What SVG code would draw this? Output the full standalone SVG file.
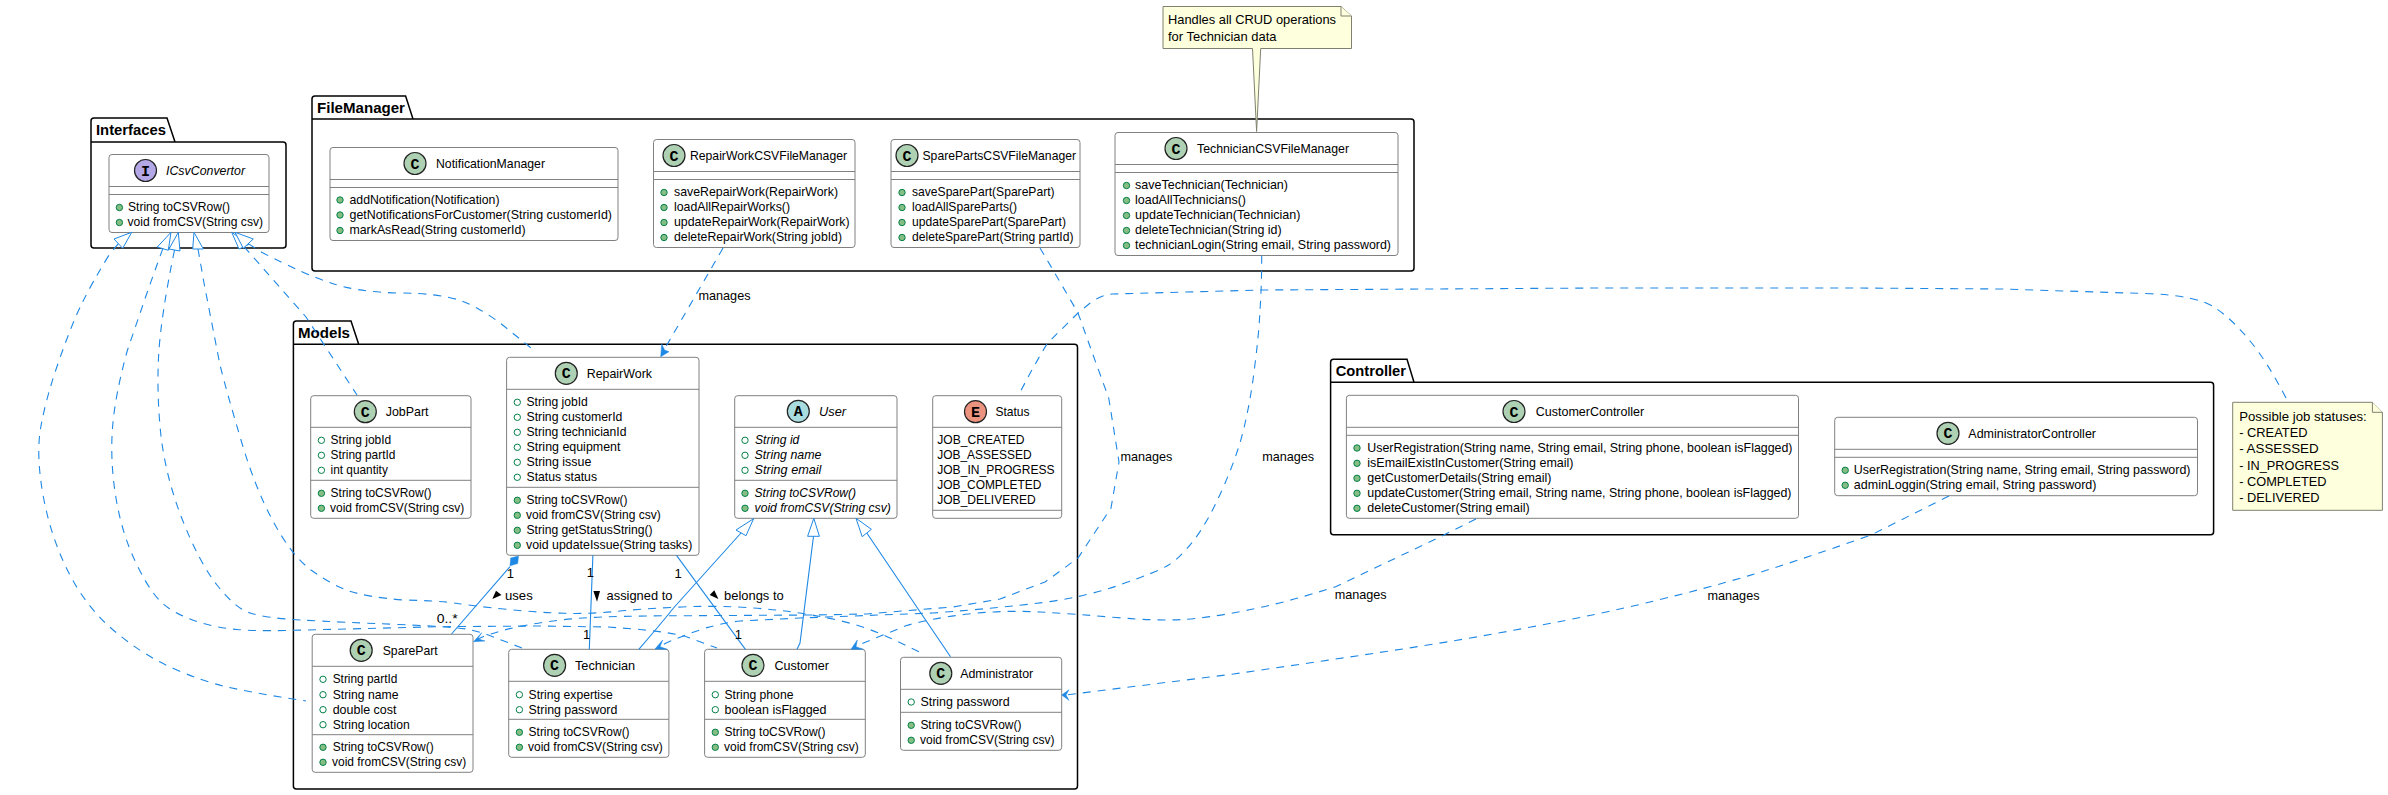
<svg xmlns="http://www.w3.org/2000/svg" width="2388" height="795" viewBox="0 0 2388 795">
<defs>
<style>
text{font-family:"Liberation Sans",Arial,sans-serif;font-size:13px;fill:#000}
.i{font-style:italic}
.p{font-weight:bold;font-size:15px}
.l{font-family:"Liberation Mono",monospace;font-weight:bold;font-size:15px;text-anchor:middle}
.pk{fill:none;stroke:#000;stroke-width:1.5}
.bx{fill:#fff;stroke:#808080;stroke-width:1}
.dv{stroke:#808080;stroke-width:1}
.ic{stroke:#222;stroke-width:1.2}
.cC{fill:#ADD1B2}.cI{fill:#B4A7E5}.cA{fill:#A9DCDF}.cE{fill:#EB937F}
.fd{fill:#fff;stroke:#038048;stroke-width:1}
.md{fill:#84BE84;stroke:#038048;stroke-width:1}
.nt{fill:#FEFFDD;stroke:#808070;stroke-width:1}
.da{fill:none;stroke:#1e88e5;stroke-width:1.1;stroke-dasharray:8 7}
.so{fill:none;stroke:#1e88e5;stroke-width:1.1}
.tr{fill:#fff;stroke:#1e88e5;stroke-width:1}
.hd{fill:#1e88e5;stroke:#1e88e5;stroke-width:.5}
</style>
<circle id="f" r="3.2" class="fd"/>
<circle id="m" r="3.2" class="md"/>
</defs>
<rect width="2388" height="795" fill="#fff"/>

<g id="pkg-Interfaces"><path class="pk" d="M91 142V121a3 3 0 0 1 3-3H167L175 142H283a3 3 0 0 1 3 3V245a3 3 0 0 1-3 3H94a3 3 0 0 1-3-3ZM91 142H175"/><text class="p" x="96" y="135" textLength="70" lengthAdjust="spacingAndGlyphs">Interfaces</text></g>
<g id="pkg-FileManager"><path class="pk" d="M312 119V99a3 3 0 0 1 3-3H405.600L413 119H1411a3 3 0 0 1 3 3V268a3 3 0 0 1-3 3H315a3 3 0 0 1-3-3ZM312 119H413"/><text class="p" x="317" y="113" textLength="88" lengthAdjust="spacingAndGlyphs">FileManager</text></g>
<g id="pkg-Models"><path class="pk" d="M293.400 344.300V324a3 3 0 0 1 3-3H351L358.700 344.300H1074.500a3 3 0 0 1 3 3V786a3 3 0 0 1-3 3H296.400a3 3 0 0 1-3-3ZM293.400 344.300H358.700"/><text class="p" x="298" y="338" textLength="52" lengthAdjust="spacingAndGlyphs">Models</text></g>
<g id="pkg-Controller"><path class="pk" d="M1330.600 382.300V362.300a3 3 0 0 1 3-3H1407L1414 382.300H2210.600a3 3 0 0 1 3 3V531.700a3 3 0 0 1-3 3H1333.600a3 3 0 0 1-3-3ZM1330.600 382.300H1414"/><text class="p" x="1335.700" y="376" textLength="70.300" lengthAdjust="spacingAndGlyphs">Controller</text></g>

<g id="ICsvConvertor"><rect class="bx" x="109" y="154.500" width="160" height="78" rx="3"/><path class="dv" d="M109 186.500H269M109 194.500H269"/><circle class="ic cI" cx="145.500" cy="170.500" r="11"/><text class="l" x="145.500" y="175.500">I</text><text class="i" x="166" y="175" textLength="79" lengthAdjust="spacingAndGlyphs">ICsvConvertor</text><use href="#m" x="119.400" y="207.500"/><text x="128" y="211" textLength="102" lengthAdjust="spacingAndGlyphs">String toCSVRow()</text><use href="#m" x="119.400" y="222.500"/><text x="127.500" y="226" textLength="135.500" lengthAdjust="spacingAndGlyphs">void fromCSV(String csv)</text></g>

<g id="NotificationManager"><rect class="bx" x="330" y="147.500" width="288" height="93" rx="3"/><path class="dv" d="M330 179.500H618M330 187.500H618"/><circle class="ic cC" cx="415" cy="163.500" r="11"/><text class="l" x="415" y="168.500">C</text><text x="436" y="168" textLength="109" lengthAdjust="spacingAndGlyphs">NotificationManager</text><use href="#m" x="340" y="200"/><text x="349.500" y="203.500" textLength="150" lengthAdjust="spacingAndGlyphs">addNotification(Notification)</text><use href="#m" x="340" y="215"/><text x="349.500" y="219" textLength="262.500" lengthAdjust="spacingAndGlyphs">getNotificationsForCustomer(String customerId)</text><use href="#m" x="340" y="230.500"/><text x="349.500" y="234" textLength="176" lengthAdjust="spacingAndGlyphs">markAsRead(String customerId)</text></g>

<g id="RepairWorkCSVFileManager"><rect class="bx" x="653.500" y="139.500" width="201.500" height="108" rx="3"/><path class="dv" d="M653.500 171.500H855M653.500 179.500H855"/><circle class="ic cC" cx="674" cy="155.500" r="11"/><text class="l" x="674" y="160.500">C</text><text x="690" y="160" textLength="157" lengthAdjust="spacingAndGlyphs">RepairWorkCSVFileManager</text><use href="#m" x="664" y="192.500"/><text x="674" y="196" textLength="164" lengthAdjust="spacingAndGlyphs">saveRepairWork(RepairWork)</text><use href="#m" x="664" y="207.500"/><text x="674" y="211" textLength="116" lengthAdjust="spacingAndGlyphs">loadAllRepairWorks()</text><use href="#m" x="664" y="222.500"/><text x="674" y="226" textLength="175.500" lengthAdjust="spacingAndGlyphs">updateRepairWork(RepairWork)</text><use href="#m" x="664" y="237.500"/><text x="674" y="241" textLength="168" lengthAdjust="spacingAndGlyphs">deleteRepairWork(String jobId)</text></g>

<g id="SparePartsCSVFileManager"><rect class="bx" x="891" y="139.500" width="189" height="108" rx="3"/><path class="dv" d="M891 171.500H1080M891 179.500H1080"/><circle class="ic cC" cx="907" cy="155.500" r="11"/><text class="l" x="907" y="160.500">C</text><text x="922.500" y="160" textLength="153.500" lengthAdjust="spacingAndGlyphs">SparePartsCSVFileManager</text><use href="#m" x="902" y="192.500"/><text x="912" y="196" textLength="142.600" lengthAdjust="spacingAndGlyphs">saveSparePart(SparePart)</text><use href="#m" x="902" y="207.500"/><text x="912" y="211" textLength="105" lengthAdjust="spacingAndGlyphs">loadAllSpareParts()</text><use href="#m" x="902" y="222.500"/><text x="912" y="226" textLength="154" lengthAdjust="spacingAndGlyphs">updateSparePart(SparePart)</text><use href="#m" x="902" y="237.500"/><text x="912" y="241" textLength="161.500" lengthAdjust="spacingAndGlyphs">deleteSparePart(String partId)</text></g>

<g id="TechnicianCSVFileManager"><rect class="bx" x="1115" y="132.500" width="283" height="123" rx="3"/><path class="dv" d="M1115 164.500H1398M1115 172.500H1398"/><circle class="ic cC" cx="1176" cy="148.500" r="11"/><text class="l" x="1176" y="153.500">C</text><text x="1197" y="152.500" textLength="152" lengthAdjust="spacingAndGlyphs">TechnicianCSVFileManager</text><use href="#m" x="1126.500" y="185.500"/><text x="1135" y="189" textLength="153" lengthAdjust="spacingAndGlyphs">saveTechnician(Technician)</text><use href="#m" x="1126.500" y="200.500"/><text x="1135" y="204" textLength="111" lengthAdjust="spacingAndGlyphs">loadAllTechnicians()</text><use href="#m" x="1126.500" y="215.500"/><text x="1135" y="219" textLength="165.500" lengthAdjust="spacingAndGlyphs">updateTechnician(Technician)</text><use href="#m" x="1126.500" y="230.500"/><text x="1135" y="234" textLength="146.600" lengthAdjust="spacingAndGlyphs">deleteTechnician(String id)</text><use href="#m" x="1126.500" y="245.500"/><text x="1135" y="249" textLength="256" lengthAdjust="spacingAndGlyphs">technicianLogin(String email, String password)</text></g>

<g id="CustomerController"><rect class="bx" x="1346.400" y="395.300" width="452.100" height="123" rx="3"/><path class="dv" d="M1346.400 427.300H1798.500M1346.400 435.300H1798.500"/><circle class="ic cC" cx="1514" cy="411.500" r="11"/><text class="l" x="1514" y="416.500">C</text><text x="1535.700" y="416" textLength="108.500" lengthAdjust="spacingAndGlyphs">CustomerController</text><use href="#m" x="1357" y="448"/><text x="1367.300" y="451.500" textLength="425.200" lengthAdjust="spacingAndGlyphs">UserRegistration(String name, String email, String phone, boolean isFlagged)</text><use href="#m" x="1357" y="463.300"/><text x="1367.300" y="466.800" textLength="206.200" lengthAdjust="spacingAndGlyphs">isEmailExistInCustomer(String email)</text><use href="#m" x="1357" y="478.300"/><text x="1367.300" y="481.800" textLength="184.200" lengthAdjust="spacingAndGlyphs">getCustomerDetails(String email)</text><use href="#m" x="1357" y="493.300"/><text x="1367.300" y="496.800" textLength="424.200" lengthAdjust="spacingAndGlyphs">updateCustomer(String email, String name, String phone, boolean isFlagged)</text><use href="#m" x="1357" y="508.300"/><text x="1367.300" y="511.800" textLength="162.300" lengthAdjust="spacingAndGlyphs">deleteCustomer(String email)</text></g>

<g id="AdministratorController"><rect class="bx" x="1834.700" y="417.300" width="362.800" height="78.400" rx="3"/><path class="dv" d="M1834.700 449.300H2197.500M1834.700 457.300H2197.500"/><circle class="ic cC" cx="1948" cy="433.300" r="11"/><text class="l" x="1948" y="438.300">C</text><text x="1968.300" y="437.700" textLength="127.700" lengthAdjust="spacingAndGlyphs">AdministratorController</text><use href="#m" x="1845.200" y="470.300"/><text x="1853.800" y="474" textLength="336.700" lengthAdjust="spacingAndGlyphs">UserRegistration(String name, String email, String password)</text><use href="#m" x="1845.200" y="485.300"/><text x="1853.800" y="489" textLength="242.700" lengthAdjust="spacingAndGlyphs">adminLoggin(String email, String password)</text></g>

<g id="JobPart"><rect class="bx" x="310.700" y="395.700" width="160.300" height="122.600" rx="3"/><path class="dv" d="M310.700 427.300H471M310.700 480.300H471"/><circle class="ic cC" cx="365.300" cy="411.700" r="11"/><text class="l" x="365.300" y="416.700">C</text><text x="385.700" y="415.700" textLength="42.900" lengthAdjust="spacingAndGlyphs">JobPart</text><use href="#f" x="321.400" y="440.300"/><text x="330.600" y="443.800" textLength="60.700" lengthAdjust="spacingAndGlyphs">String jobId</text><use href="#f" x="321.400" y="455.300"/><text x="330.600" y="459" textLength="64.800" lengthAdjust="spacingAndGlyphs">String partId</text><use href="#f" x="321.400" y="470.300"/><text x="330.600" y="474" textLength="57.200" lengthAdjust="spacingAndGlyphs">int quantity</text><use href="#m" x="321.400" y="493.300"/><text x="330.600" y="496.800" textLength="101" lengthAdjust="spacingAndGlyphs">String toCSVRow()</text><use href="#m" x="321.400" y="508.300"/><text x="330" y="511.800" textLength="134.300" lengthAdjust="spacingAndGlyphs">void fromCSV(String csv)</text></g>

<g id="RepairWork"><rect class="bx" x="506.600" y="357.300" width="192.400" height="198" rx="3"/><path class="dv" d="M506.600 389.300H699M506.600 487.300H699"/><circle class="ic cC" cx="566.300" cy="373.300" r="11"/><text class="l" x="566.300" y="378.300">C</text><text x="586.700" y="377.700" textLength="65.300" lengthAdjust="spacingAndGlyphs">RepairWork</text><use href="#f" x="517.300" y="402.300"/><text x="526.500" y="405.800" textLength="61.300" lengthAdjust="spacingAndGlyphs">String jobId</text><use href="#f" x="517.300" y="417.300"/><text x="526.500" y="420.800" textLength="95.900" lengthAdjust="spacingAndGlyphs">String customerId</text><use href="#f" x="517.300" y="432.300"/><text x="526.500" y="435.800" textLength="100" lengthAdjust="spacingAndGlyphs">String technicianId</text><use href="#f" x="517.300" y="447.300"/><text x="526.500" y="450.800" textLength="93.900" lengthAdjust="spacingAndGlyphs">String equipment</text><use href="#f" x="517.300" y="462.300"/><text x="526.500" y="465.800" textLength="64.800" lengthAdjust="spacingAndGlyphs">String issue</text><use href="#f" x="517.300" y="477.300"/><text x="526.500" y="480.800" textLength="70.500" lengthAdjust="spacingAndGlyphs">Status status</text><use href="#m" x="517.300" y="500.300"/><text x="526.500" y="503.800" textLength="101.100" lengthAdjust="spacingAndGlyphs">String toCSVRow()</text><use href="#m" x="517.300" y="515.300"/><text x="526" y="518.800" textLength="134.700" lengthAdjust="spacingAndGlyphs">void fromCSV(String csv)</text><use href="#m" x="517.300" y="530.300"/><text x="526.500" y="533.800" textLength="126.100" lengthAdjust="spacingAndGlyphs">String getStatusString()</text><use href="#m" x="517.300" y="545.300"/><text x="526" y="548.800" textLength="166.300" lengthAdjust="spacingAndGlyphs">void updateIssue(String tasks)</text></g>

<g id="User"><rect class="bx" x="734.700" y="395.700" width="162.300" height="122.600" rx="3"/><path class="dv" d="M734.700 427.300H897M734.700 480.300H897"/><circle class="ic cA" cx="798.300" cy="411.300" r="11"/><text class="l" x="798.300" y="416.300">A</text><text class="i" x="819" y="415.700" textLength="27" lengthAdjust="spacingAndGlyphs">User</text><use href="#f" x="745" y="440.300"/><text class="i" x="755" y="443.800" textLength="44.300" lengthAdjust="spacingAndGlyphs">String id</text><use href="#f" x="745" y="455.300"/><text class="i" x="754.600" y="459" textLength="66.800" lengthAdjust="spacingAndGlyphs">String name</text><use href="#f" x="745" y="470.300"/><text class="i" x="754.600" y="474" textLength="66.800" lengthAdjust="spacingAndGlyphs">String email</text><use href="#m" x="745" y="493.300"/><text class="i" x="754.600" y="496.800" textLength="101.400" lengthAdjust="spacingAndGlyphs">String toCSVRow()</text><use href="#m" x="745" y="508.300"/><text class="i" x="754.600" y="511.800" textLength="136.200" lengthAdjust="spacingAndGlyphs">void fromCSV(String csv)</text></g>

<g id="Status"><rect class="bx" x="932.700" y="395.700" width="129" height="122.600" rx="3"/><path class="dv" d="M932.700 427.300H1061.700M932.700 510.300H1061.700"/><circle class="ic cE" cx="975.500" cy="411.700" r="11"/><text class="l" x="975.500" y="416.700">E</text><text x="995.400" y="415.700" textLength="34.200" lengthAdjust="spacingAndGlyphs">Status</text><text x="937.200" y="443.800" textLength="87.300" lengthAdjust="spacingAndGlyphs">JOB_CREATED</text><text x="937.200" y="459" textLength="94.400" lengthAdjust="spacingAndGlyphs">JOB_ASSESSED</text><text x="937.200" y="474" textLength="117.400" lengthAdjust="spacingAndGlyphs">JOB_IN_PROGRESS</text><text x="937.200" y="489" textLength="104.100" lengthAdjust="spacingAndGlyphs">JOB_COMPLETED</text><text x="937.200" y="504" textLength="98.500" lengthAdjust="spacingAndGlyphs">JOB_DELIVERED</text></g>

<g id="SparePart"><rect class="bx" x="312.200" y="634.300" width="160.800" height="138" rx="3"/><path class="dv" d="M312.200 666.300H473M312.200 734.700H473"/><circle class="ic cC" cx="361.200" cy="650.300" r="11"/><text class="l" x="361.200" y="655.300">C</text><text x="382.700" y="655" textLength="55.100" lengthAdjust="spacingAndGlyphs">SparePart</text><use href="#f" x="323" y="679.300"/><text x="332.700" y="683" textLength="64.700" lengthAdjust="spacingAndGlyphs">String partId</text><use href="#f" x="323" y="694.700"/><text x="332.700" y="698.500" textLength="65.800" lengthAdjust="spacingAndGlyphs">String name</text><use href="#f" x="323" y="709.700"/><text x="332.700" y="713.500" textLength="63.700" lengthAdjust="spacingAndGlyphs">double cost</text><use href="#f" x="323" y="724.700"/><text x="332.700" y="728.500" textLength="77" lengthAdjust="spacingAndGlyphs">String location</text><use href="#m" x="323" y="747.300"/><text x="332.700" y="750.800" textLength="101" lengthAdjust="spacingAndGlyphs">String toCSVRow()</text><use href="#m" x="323" y="762.300"/><text x="332" y="765.800" textLength="134.300" lengthAdjust="spacingAndGlyphs">void fromCSV(String csv)</text></g>

<g id="Technician"><rect class="bx" x="508.700" y="649.300" width="160.200" height="108" rx="3"/><path class="dv" d="M508.700 681.300H668.900M508.700 719.300H668.900"/><circle class="ic cC" cx="554.600" cy="665.300" r="11"/><text class="l" x="554.600" y="670.300">C</text><text x="575" y="670" textLength="60.200" lengthAdjust="spacingAndGlyphs">Technician</text><use href="#f" x="519.400" y="694.700"/><text x="528.600" y="698.500" textLength="84.200" lengthAdjust="spacingAndGlyphs">String expertise</text><use href="#f" x="519.400" y="709.700"/><text x="528.600" y="713.500" textLength="88.700" lengthAdjust="spacingAndGlyphs">String password</text><use href="#m" x="519.400" y="732.300"/><text x="528.600" y="735.800" textLength="101" lengthAdjust="spacingAndGlyphs">String toCSVRow()</text><use href="#m" x="519.400" y="747.300"/><text x="528" y="750.800" textLength="134.800" lengthAdjust="spacingAndGlyphs">void fromCSV(String csv)</text></g>

<g id="Customer"><rect class="bx" x="704.600" y="649.300" width="160.700" height="108" rx="3"/><path class="dv" d="M704.600 681.300H865.300M704.600 719.300H865.300"/><circle class="ic cC" cx="753" cy="665.300" r="11"/><text class="l" x="753" y="670.300">C</text><text x="774.500" y="670" textLength="54.500" lengthAdjust="spacingAndGlyphs">Customer</text><use href="#f" x="715.300" y="694.700"/><text x="724.500" y="698.500" textLength="68.900" lengthAdjust="spacingAndGlyphs">String phone</text><use href="#f" x="715.300" y="709.700"/><text x="724.500" y="713.500" textLength="102" lengthAdjust="spacingAndGlyphs">boolean isFlagged</text><use href="#m" x="715.300" y="732.300"/><text x="724.500" y="735.800" textLength="101" lengthAdjust="spacingAndGlyphs">String toCSVRow()</text><use href="#m" x="715.300" y="747.300"/><text x="724" y="750.800" textLength="134.700" lengthAdjust="spacingAndGlyphs">void fromCSV(String csv)</text></g>

<g id="Administrator"><rect class="bx" x="900.500" y="657.300" width="161.200" height="93" rx="3"/><path class="dv" d="M900.500 689.300H1061.700M900.500 712.300H1061.700"/><circle class="ic cC" cx="940.800" cy="673.300" r="11"/><text class="l" x="940.800" y="678.300">C</text><text x="960.200" y="678" textLength="73" lengthAdjust="spacingAndGlyphs">Administrator</text><use href="#f" x="911.200" y="702"/><text x="920.400" y="705.700" textLength="89.300" lengthAdjust="spacingAndGlyphs">String password</text><use href="#m" x="911.200" y="725.300"/><text x="920.400" y="728.800" textLength="101" lengthAdjust="spacingAndGlyphs">String toCSVRow()</text><use href="#m" x="911.200" y="740.300"/><text x="920" y="743.800" textLength="134.600" lengthAdjust="spacingAndGlyphs">void fromCSV(String csv)</text></g>

<g id="note-Technician"><path class="nt" d="M1163 6.500H1341L1351.500 16V48.500H1260.700L1256.600 131.500L1252.500 48.500H1163Z"/><path class="nt" d="M1341 6.500V16H1351.500"/><text x="1168" y="24" textLength="168" lengthAdjust="spacingAndGlyphs">Handles all CRUD operations</text><text x="1168" y="40.500" textLength="108.500" lengthAdjust="spacingAndGlyphs">for Technician data</text></g>

<g id="note-Status"><path class="nt" d="M2232.700 402.300H2372.400L2382.400 412.300V510.300H2232.700Z"/><path class="nt" d="M2372.400 402.300V412.300H2382.400"/><text x="2239.200" y="420.700" textLength="127.600" lengthAdjust="spacingAndGlyphs">Possible job statuses:</text><text x="2239.200" y="437" textLength="68.300" lengthAdjust="spacingAndGlyphs">- CREATED</text><text x="2239.200" y="453.300" textLength="79.400" lengthAdjust="spacingAndGlyphs">- ASSESSED</text><text x="2239.200" y="469.600" textLength="99.800" lengthAdjust="spacingAndGlyphs">- IN_PROGRESS</text><text x="2239.200" y="486" textLength="87.400" lengthAdjust="spacingAndGlyphs">- COMPLETED</text><text x="2239.200" y="502.300" textLength="80.400" lengthAdjust="spacingAndGlyphs">- DELIVERED</text></g>

<g id="connectors">
<path class="da" d="M118.400 243.700L109.700 254Q91.800 283 81.600 304Q71.400 325 58.700 361.500Q46 398 40.900 426.500Q35.700 455 43.300 496.500Q51 538 68.900 573Q86.700 608 114.900 631.500Q143 655 173.500 668.500Q204 682 229.500 687.500Q255 693 280.500 697L306 701"/>
<path class="da" d="M162.800 248.600L148 290L127.500 350Q115 395 112.500 428Q110 462 116 498Q122 535 137.500 566Q153 598 168.500 608Q184 618 201.500 623Q219 628 237 629.500Q255 631 285 630.500L440 626.700L540 626L607 627Q667 630.700 687 637L717 648"/>
<path class="da" d="M174.500 250Q160.700 317 158.600 356Q156.600 395 161 436Q166 478 182.500 520Q199 562 217 585Q235 608 250 613Q265 618 301 620Q337 622 398.500 624.500Q460 627 471.500 630L483 633L522 648"/>
<path class="da" d="M198 249L204 283L220 365Q227 393 241 440Q255 488 273 521Q291 555 311 570Q332 585 349 591Q367 597 403 600Q440 600.700 456.500 603.300Q473 606 506.500 609.300Q540 612.700 565 613.300Q590 614 615 611.500Q640 609 673.500 607.300Q707 605.700 733.500 606.800Q760 608 785 611Q810 614 838.400 620.300Q866.700 626.700 893.400 639.500L920 652.300"/>
<path class="da" d="M244 246.600L306 317L357 395"/>
<path class="da" d="M248.300 243.600L261.700 252.300Q306 275 331 283Q357 292 398 293Q439 293 462 301Q485 310 510 331L536 352"/>
<path class="da" d="M723 248L664 350"/>
<path class="da" d="M1040 248Q1059 280 1078 313Q1093 355 1108.700 398Q1113.900 430 1119 462Q1115 485 1111 508Q1094.500 533 1078 558Q1061.500 570 1045 582Q1022.500 590.500 1000 599Q976.500 603 953 607Q908 610.400 866.700 614L810 615L690 615.700Q640 615.700 606 616.900Q573 618 549 621.500Q525 625 511 628.400Q497 631.700 483 636.700L478 639"/>
<path class="da" d="M1261.700 255.700Q1261.700 287 1260 310Q1259 333 1255 364Q1251.500 395 1245 423.500Q1238.800 452 1223.400 487Q1208 522 1194 540Q1180 558 1168.500 565Q1157 572 1121 584.500Q1085.700 597 1043 602.500Q1000 608 933 613L800 618L740 621Q723 623 708 627.400Q693 631.700 666.700 642.700L660 646.500"/>
<path class="da" d="M1476 519L1437.800 538L1335.700 586.700Q1284.700 603 1246 610.500Q1208 618 1182.500 619.500Q1157 621 1116 617.500Q1075.500 614 1040 612Q1004 610 968.500 614Q933 618 906.500 625.500L856 646"/>
<path class="da" d="M1949 496L1871 535Q1791 563.300 1749 575.600Q1707.500 588 1654 601Q1600 614.300 1531 627Q1463 640 1386 651.500Q1310 663 1233.500 674L1066 695"/>
<path class="da" d="M2286 398Q2268 363 2250.500 341.500Q2233 320 2215.500 308Q2198 295.700 2150 293.700L2002 289L1851 288L1600 288L1261.700 290L1112 294Q1100 295 1089 304L1078 313L1047.400 343.300Q1033 367 1018.400 395.500"/>
<path class="so" d="M510 566.700L451.500 634"/>
<path class="so" d="M592.900 555.300L589.300 649.300"/>
<path class="so" d="M676.500 555.300L745.400 649.300"/>
<path class="so" d="M741 533L673.500 608Q660 625 638.800 649.300"/>
<path class="so" d="M813.500 536.300L800 643L797 649.300"/>
<path class="so" d="M866.800 533L920 611.700L950.500 656.700"/>
<path class="tr" d="M131.700 232.300L114 239L122.700 248.300Z"/>
<path class="tr" d="M171 232.300L157.300 247L168.300 250.300Z"/>
<path class="tr" d="M178.300 232.300L169 249L180 251Z"/>
<path class="tr" d="M194 232.300L192.700 249L203.300 249Z"/>
<path class="tr" d="M231.700 232.300L239 249L249 244.300Z"/>
<path class="tr" d="M235 232.300L243.300 248.300L253.300 239Z"/>
<path class="tr" d="M753.600 518.700L736 530L746 535.700Z"/>
<path class="tr" d="M813.800 518.300L807.600 536.300L819.400 536.300Z"/>
<path class="tr" d="M856 518.300L871.400 529.300L862.200 536.700Z"/>
<path class="hd" d="M518.500 556L517.700 563.500L510 565.800L510.700 558Z"/>
<path class="hd" d="M660.700 356.700L661.700 344L664.500 350L669 351.700Z"/>
<path class="hd" d="M473.500 641.700L481.700 632.700L477.700 638.700L485 641Z"/>
<path class="hd" d="M655 649L662.700 640L660 646.700L667.300 649.300Z"/>
<path class="hd" d="M851 649.300L857.300 640L856 646.700L863.300 649.300Z"/>
<path class="hd" d="M1061.700 695L1069 689.700L1066 695L1069 700.300Z"/>
<path d="M496 590.700L501.500 595L492.300 599Z" fill="#000"/>
<path d="M593.400 591L600 591L597 601.700Z" fill="#000"/>
<path d="M714.300 590.300L718.400 599L709.700 595Z" fill="#000"/>
<text x="698.500" y="300" textLength="52" lengthAdjust="spacingAndGlyphs">manages</text>
<text x="1120.400" y="461" textLength="52" lengthAdjust="spacingAndGlyphs">manages</text>
<text x="1262.200" y="461" textLength="52" lengthAdjust="spacingAndGlyphs">manages</text>
<text x="1334.700" y="599" textLength="52" lengthAdjust="spacingAndGlyphs">manages</text>
<text x="1707.500" y="600" textLength="52" lengthAdjust="spacingAndGlyphs">manages</text>
<text x="505" y="600" textLength="27.700" lengthAdjust="spacingAndGlyphs">uses</text>
<text x="606.600" y="600" textLength="65.800" lengthAdjust="spacingAndGlyphs">assigned to</text>
<text x="724" y="600" textLength="59.700" lengthAdjust="spacingAndGlyphs">belongs to</text>
<text x="506.700" y="578">1</text>
<text x="436.700" y="623.300" textLength="21" lengthAdjust="spacingAndGlyphs">0..*</text>
<text x="586.700" y="577">1</text>
<text x="583" y="639.300">1</text>
<text x="674.500" y="578">1</text>
<text x="734.700" y="639.300">1</text>
</g>
</svg>
